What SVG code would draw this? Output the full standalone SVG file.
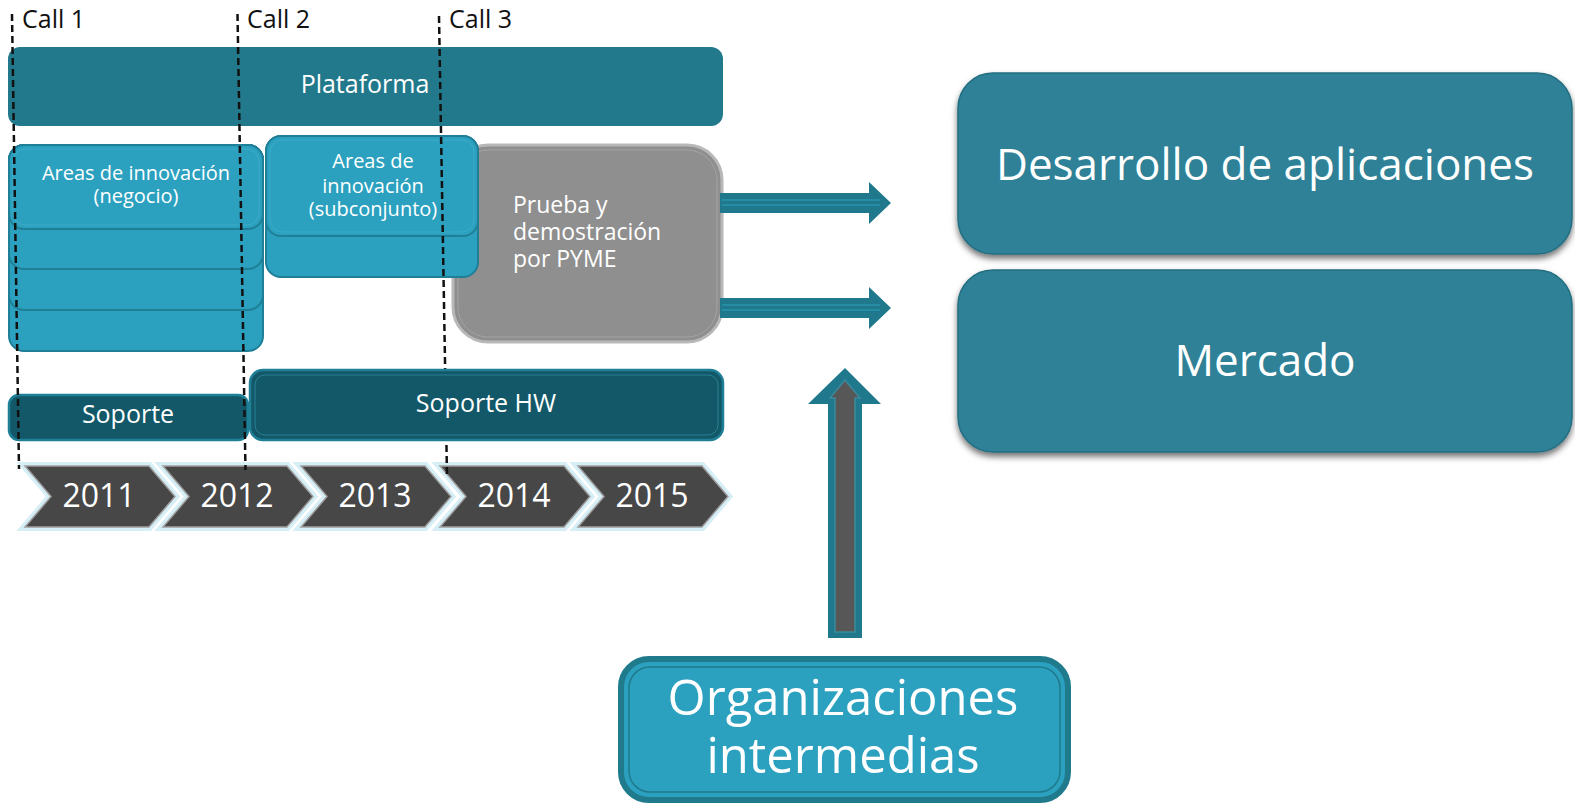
<svg xmlns="http://www.w3.org/2000/svg" width="1575" height="803" viewBox="0 0 1575 803">
<defs>
<style>
text{font-family:"Open Sans","DejaVu Sans",sans-serif;fill:#ffffff}
.call{fill:#111111;font-size:25px}
.card{fill:#2ba1bf;stroke:#1f7f97;stroke-width:2}
.cardin{fill:none;stroke:#4ab3cc;stroke-width:1;opacity:.6}
.dark{fill:#125868;stroke:#1f7f97;stroke-width:2.5}
.darkin{fill:none;stroke:#2a7f92;stroke-width:1}
.chev-glow{fill:none;stroke:#d6eef5;stroke-width:8;stroke-linejoin:miter}
.chev{fill:#474747;stroke:#a0a0a0;stroke-width:1.5}
.year{font-size:32px;text-anchor:middle}
.dash{stroke:#111111;stroke-width:2.5;stroke-dasharray:7 4;fill:none}
.arrow{fill:#1f788b}
.big{fill:#2e8196;stroke:#246e80;stroke-width:1.5}
</style>
<filter id="shadow" x="-5%" y="-5%" width="110%" height="120%">
<feGaussianBlur in="SourceAlpha" stdDeviation="3"/>
<feOffset dx="0" dy="4" result="b"/>
<feFlood flood-color="#000000" flood-opacity="0.55"/>
<feComposite in2="b" operator="in"/>
<feMerge><feMergeNode/><feMergeNode in="SourceGraphic"/></feMerge>
</filter>
</defs>
<rect x="0" y="0" width="1575" height="803" fill="#ffffff"/>

<g id="plataforma">
<rect x="8" y="47" width="715" height="79" rx="12" fill="#22798b"/>
<text x="365" y="93" font-size="25" text-anchor="middle">Plataforma</text>
</g>

<g id="areas-negocio">
<rect class="card" x="9" y="145" width="254" height="206" rx="15"/>
<rect class="card" x="9" y="145" width="254" height="165" rx="15"/>
<rect class="card" x="9" y="145" width="254" height="124" rx="15"/>
<rect class="card" x="9" y="145" width="254" height="84" rx="15"/>
<rect class="cardin" x="13" y="149" width="246" height="76" rx="12"/>
<text x="136" y="180" font-size="20" text-anchor="middle">Areas de innovación</text>
<text x="136" y="203" font-size="20" text-anchor="middle">(negocio)</text>
</g>

<g id="prueba">
<rect x="453" y="145" width="269" height="197" rx="35" fill="#8f8f8f" stroke="#b8b8b8" stroke-width="3"/>
<rect x="458" y="150" width="259" height="187" rx="30" fill="none" stroke="#a3a3a3" stroke-width="1"/>
<text x="513" y="213" font-size="23">Prueba y</text>
<text x="513" y="240" font-size="23">demostración</text>
<text x="513" y="267" font-size="23">por PYME</text>
</g>

<g id="areas-subconjunto">
<rect class="card" x="266" y="136" width="212" height="141" rx="15"/>
<rect class="card" x="266" y="136" width="212" height="100" rx="15"/>
<rect class="cardin" x="270" y="140" width="204" height="92" rx="12"/>
<text x="373" y="168" font-size="20" text-anchor="middle">Areas de</text>
<text x="373" y="193" font-size="20" text-anchor="middle">innovación</text>
<text x="373" y="216" font-size="20" text-anchor="middle">(subconjunto)</text>
</g>

<g id="soporte">
<rect class="dark" x="9" y="395" width="239" height="45" rx="10"/>
<text x="128" y="423" font-size="25" text-anchor="middle">Soporte</text>
</g>

<g id="timeline">
<polygon class="chev-glow" points="25,466 149,466 175,496.5 149,527 25,527 51,496.5"/>
<polygon class="chev-glow" points="163,466 287,466 313,496.5 287,527 163,527 189,496.5"/>
<polygon class="chev-glow" points="301,466 425,466 451,496.5 425,527 301,527 327,496.5"/>
<polygon class="chev-glow" points="440,466 564,466 590,496.5 564,527 440,527 466,496.5"/>
<polygon class="chev-glow" points="578,466 702,466 728,496.5 702,527 578,527 604,496.5"/>
<polygon class="chev" points="25,466 149,466 175,496.5 149,527 25,527 51,496.5"/>
<polygon class="chev" points="163,466 287,466 313,496.5 287,527 163,527 189,496.5"/>
<polygon class="chev" points="301,466 425,466 451,496.5 425,527 301,527 327,496.5"/>
<polygon class="chev" points="440,466 564,466 590,496.5 564,527 440,527 466,496.5"/>
<polygon class="chev" points="578,466 702,466 728,496.5 702,527 578,527 604,496.5"/>
<text class="year" x="99" y="507">2011</text>
<text class="year" x="237" y="507">2012</text>
<text class="year" x="375" y="507">2013</text>
<text class="year" x="514" y="507">2014</text>
<text class="year" x="652" y="507">2015</text>
</g>

<g id="calls">
<line class="dash" x1="12" y1="14" x2="19" y2="469"/>
<line class="dash" x1="237.5" y1="14" x2="245.5" y2="470"/>
<line class="dash" x1="439" y1="16" x2="447" y2="476"/>
<text class="call" x="22" y="28">Call 1</text>
<text class="call" x="247" y="28">Call 2</text>
<text class="call" x="449" y="28">Call 3</text>
</g>

<g id="soporte-hw">
<rect class="dark" x="250" y="370" width="473" height="70" rx="13"/>
<rect class="darkin" x="255" y="375" width="463" height="60" rx="10"/>
<text x="486" y="412" font-size="25" text-anchor="middle">Soporte HW</text>
</g>

<g id="desarrollo">
<rect class="big" x="958" y="73" width="614" height="181" rx="35" filter="url(#shadow)"/>
<text x="1265" y="180" font-size="44" text-anchor="middle">Desarrollo de aplicaciones</text>
</g>

<g id="mercado">
<rect class="big" x="958" y="270" width="614" height="182" rx="35" filter="url(#shadow)"/>
<text x="1265" y="376" font-size="44" text-anchor="middle">Mercado</text>
</g>

<g id="organizaciones">
<rect x="621" y="659" width="447" height="141" rx="28" fill="#2ba1bf" stroke="#1f7a8c" stroke-width="6"/>
<rect x="629" y="667" width="431" height="125" rx="21" fill="none" stroke="#1f7a8c" stroke-width="1.5"/>
<text x="843" y="715" font-size="49" text-anchor="middle">Organizaciones</text>
<text x="843" y="773" font-size="49" text-anchor="middle">intermedias</text>
</g>

<g id="connectors">
<polygon class="arrow" points="720,193 869,193 869,182 891,203 869,224 869,213 720,213"/>
<line x1="722" y1="200" x2="880" y2="200" stroke="#2ea3bd" stroke-width="1"/>
<line x1="722" y1="205" x2="880" y2="205" stroke="#2ea3bd" stroke-width="1"/>
<polygon class="arrow" points="720,298 869,298 869,287 891,308 869,329 869,318 720,318"/>
<line x1="722" y1="305" x2="880" y2="305" stroke="#2ea3bd" stroke-width="1"/>
<line x1="722" y1="310" x2="880" y2="310" stroke="#2ea3bd" stroke-width="1"/>
<polygon class="arrow" points="828,638 828,404 808,404 845,368 881,404 862,404 862,638"/>
<polygon points="835,632 835,398 830,398 845,380 860,398 855,398 855,632" fill="#575757" stroke="#3a8a9b" stroke-width="1.5"/>
</g>
</svg>
